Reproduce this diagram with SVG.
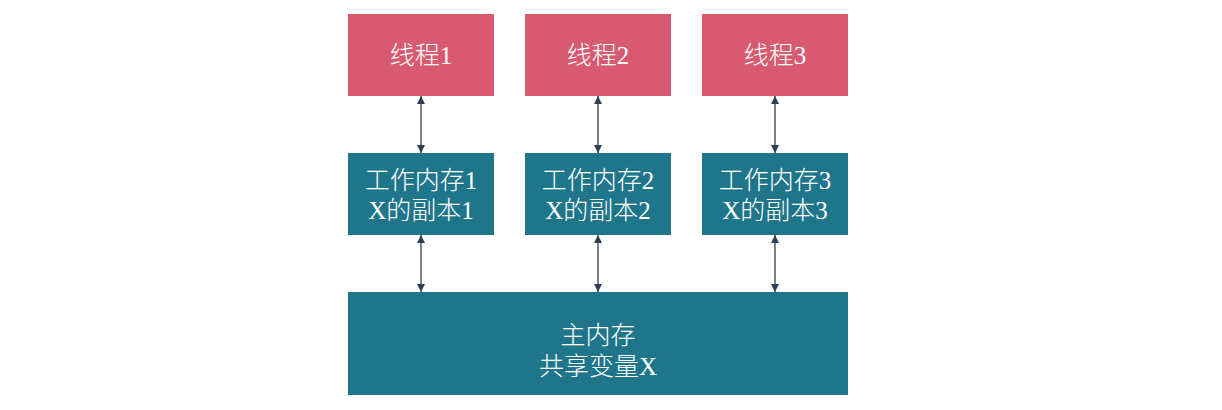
<svg xmlns="http://www.w3.org/2000/svg" width="1222" height="410" viewBox="0 0 1222 410">
<defs>
<style>
.red{fill:#D85A71}
.teal{fill:#1F768B}
text{font-family:"Liberation Serif","Noto Sans CJK SC",serif;font-size:25px;font-weight:300;fill:#FFFFFF;text-anchor:middle}
.c{stroke:#2E3F55;stroke-width:1.3;fill:none;marker-start:url(#a);marker-end:url(#a)}
</style>
<marker id="a" viewBox="0 0 10 10" refX="10" refY="5" markerWidth="8" markerHeight="8" markerUnits="userSpaceOnUse" orient="auto-start-reverse">
<path d="M0,0L10,5L0,10z" fill="#2E3F55"/>
</marker>
</defs>
<g id="t1"><rect class="red" x="348" y="14" width="146" height="82"/><text x="421" y="64">线程1</text></g>
<g id="t2"><rect class="red" x="525" y="14" width="146" height="82"/><text x="598" y="64">线程2</text></g>
<g id="t3"><rect class="red" x="702" y="14" width="146" height="82"/><text x="775" y="64">线程3</text></g>
<g id="w1"><rect class="teal" x="348" y="153" width="146" height="82"/><text x="421" y="189">工作内存1</text><text x="421" y="219">X的副本1</text></g>
<g id="w2"><rect class="teal" x="525" y="153" width="146" height="82"/><text x="598" y="189">工作内存2</text><text x="598" y="219">X的副本2</text></g>
<g id="w3"><rect class="teal" x="702" y="153" width="146" height="82"/><text x="775" y="189">工作内存3</text><text x="775" y="219">X的副本3</text></g>
<g id="main"><rect class="teal" x="348" y="292" width="500" height="103"/><text x="598" y="344">主内存</text><text x="598" y="375">共享变量X</text></g>
<g id="connectors">
<line class="c" x1="421" y1="96" x2="421" y2="153"/>
<line class="c" x1="598" y1="96" x2="598" y2="153"/>
<line class="c" x1="775" y1="96" x2="775" y2="153"/>
<line class="c" x1="421" y1="235" x2="421" y2="292"/>
<line class="c" x1="598" y1="235" x2="598" y2="292"/>
<line class="c" x1="775" y1="235" x2="775" y2="292"/>
</g>
</svg>
